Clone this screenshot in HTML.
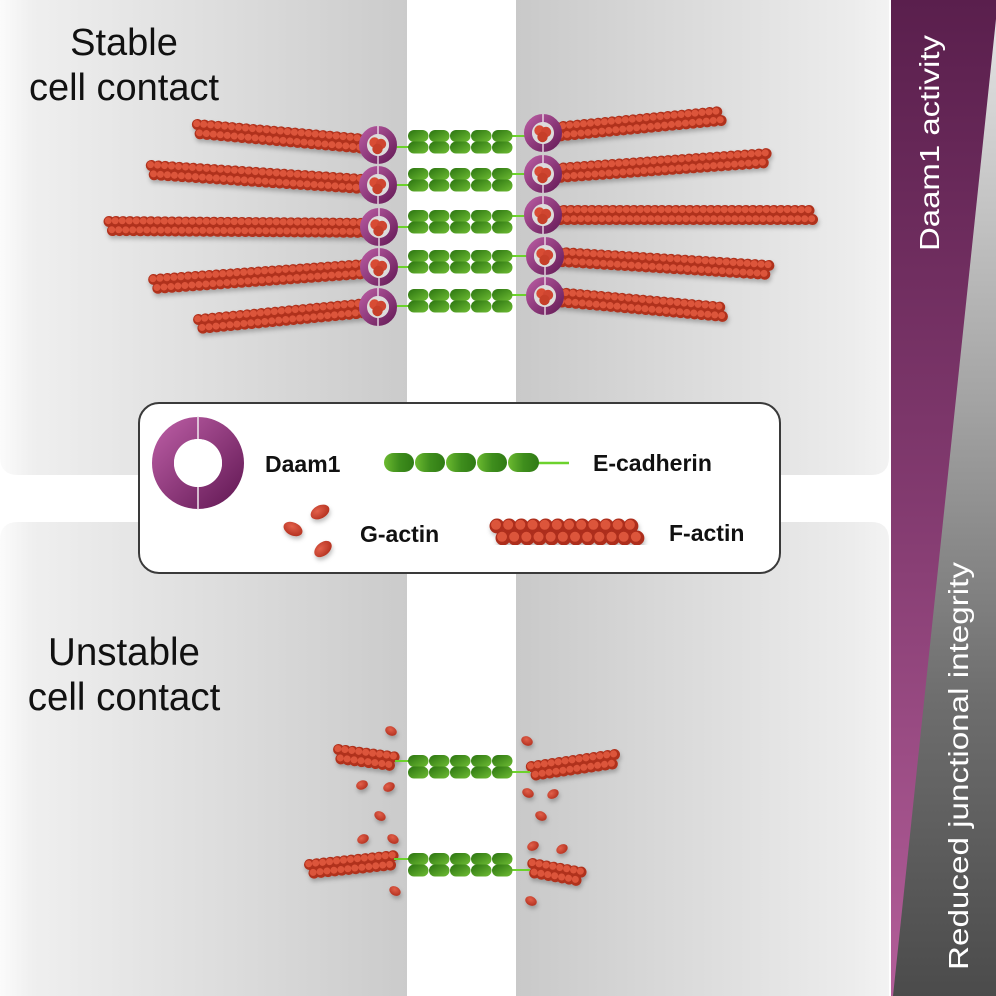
<!DOCTYPE html>
<html><head><meta charset="utf-8"><style>
html,body{margin:0;padding:0;background:#fff;}
svg{display:block;}
.fa{fill:none;stroke:#b0301e;stroke-width:11;stroke-linecap:round;stroke-dasharray:0.01 6.99;}
.fb{fill:none;stroke:#dc553a;stroke-width:7;stroke-linecap:round;stroke-dasharray:0.01 6.99;}
.la{fill:none;stroke:#ad2d1c;stroke-width:15;stroke-linecap:round;stroke-dasharray:0.01 12.16;}
.lb{fill:none;stroke:#dc553a;stroke-width:10;stroke-linecap:round;stroke-dasharray:0.01 12.16;}
.gl{stroke:#6cd22c;stroke-width:2;}
.t{font-family:"Liberation Sans",Arial,sans-serif;}
</style></head><body>
<svg width="996" height="996" viewBox="0 0 996 996" xmlns="http://www.w3.org/2000/svg">
<defs>
 <linearGradient id="gL" gradientUnits="userSpaceOnUse" x1="0" y1="0" x2="407" y2="0">
  <stop offset="0" stop-color="#fbfbfb"/><stop offset="0.08" stop-color="#efefef"/><stop offset="1" stop-color="#cbcbcb"/>
 </linearGradient>
 <linearGradient id="gR" gradientUnits="userSpaceOnUse" x1="516" y1="0" x2="889" y2="0">
  <stop offset="0" stop-color="#c9c9c9"/><stop offset="0.9" stop-color="#ececec"/><stop offset="1" stop-color="#f3f3f3"/>
 </linearGradient>
 <linearGradient id="gP" gradientUnits="userSpaceOnUse" x1="0" y1="0" x2="0" y2="996">
  <stop offset="0" stop-color="#5a1f4d"/><stop offset="0.5" stop-color="#823a6f"/><stop offset="1" stop-color="#b35e99"/>
 </linearGradient>
 <linearGradient id="gG" gradientUnits="userSpaceOnUse" x1="0" y1="0" x2="0" y2="996">
  <stop offset="0" stop-color="#e6e6e6"/><stop offset="0.4" stop-color="#a4a4a4"/><stop offset="0.7" stop-color="#6e6e6e"/><stop offset="1" stop-color="#4b4b4b"/>
 </linearGradient>
 <linearGradient id="rg" x1="0" y1="0" x2="1" y2="1">
  <stop offset="0" stop-color="#b3579d"/><stop offset="1" stop-color="#6b1f5c"/>
 </linearGradient>
 <linearGradient id="gg" x1="0" y1="0" x2="1" y2="1">
  <stop offset="0" stop-color="#2a7310"/><stop offset="1" stop-color="#6fbd34"/>
 </linearGradient>
 <linearGradient id="gg2" x1="0" y1="0" x2="1" y2="0">
  <stop offset="0" stop-color="#6cba30"/><stop offset="0.5" stop-color="#3f8e1d"/><stop offset="1" stop-color="#2f7a14"/>
 </linearGradient>
 <radialGradient id="rb" cx="0.4" cy="0.35" r="0.7">
  <stop offset="0" stop-color="#e2604a"/><stop offset="1" stop-color="#b3301f"/>
 </radialGradient>
 <filter id="sh" x="-10%" y="-50%" width="120%" height="200%">
  <feDropShadow dx="1" dy="3" stdDeviation="2" flood-color="#000" flood-opacity="0.25"/>
 </filter>
 <g id="ring">
  <circle r="15" fill="none" stroke="url(#rg)" stroke-width="8"/>
  <line x1="0" y1="-19" x2="0" y2="19" stroke="#f1e9ef" stroke-width="1.3"/>
  <circle r="11" fill="#dcdcdc"/>
  <circle cx="-3.5" cy="-2.5" r="5.2" fill="#d84c34"/>
  <circle cx="3" cy="-1" r="5.2" fill="#cf4530"/>
  <circle cx="-0.5" cy="4" r="5.2" fill="#c63f29"/>
 </g>
 <g id="cad" fill="url(#gg)">
  <rect x="0" y="0" width="20.5" height="12" rx="6"/><rect x="0" y="11.5" width="20.5" height="12" rx="6"/>
  <rect x="21" y="0" width="20.5" height="12" rx="6"/><rect x="21" y="11.5" width="20.5" height="12" rx="6"/>
  <rect x="42" y="0" width="20.5" height="12" rx="6"/><rect x="42" y="11.5" width="20.5" height="12" rx="6"/>
  <rect x="63" y="0" width="20.5" height="12" rx="6"/><rect x="63" y="11.5" width="20.5" height="12" rx="6"/>
  <rect x="84" y="0" width="20.5" height="12" rx="6"/><rect x="84" y="11.5" width="20.5" height="12" rx="6"/>
 </g>
 <ellipse id="gb" rx="6" ry="4.5" fill="url(#rb)"/>
</defs>

<!-- background panels -->
<rect width="996" height="996" fill="#fff"/>
<path d="M0,0 H407 V475 H18 Q0,475 0,457 Z" fill="url(#gL)"/>
<path d="M516,0 H889 V457 Q889,475 871,475 H516 Z" fill="url(#gR)"/>
<path d="M0,540 Q0,522 18,522 H407 V996 H0 Z" fill="url(#gL)"/>
<path d="M516,522 H871 Q889,522 889,540 V996 H516 Z" fill="url(#gR)"/>

<!-- sidebar -->
<rect x="891" y="0" width="105" height="996" fill="url(#gP)"/>
<polygon points="996,19 996,996 893,996" fill="url(#gG)"/>
<text class="t" transform="translate(939,251) rotate(-90)" font-size="28" fill="#fff" textLength="216" lengthAdjust="spacingAndGlyphs">Daam1 activity</text>
<text class="t" transform="translate(968,970) rotate(-90)" font-size="28" fill="#fff" textLength="408" lengthAdjust="spacingAndGlyphs">Reduced junctional integrity</text>

<!-- titles -->
<text class="t" x="124" y="55" font-size="38" text-anchor="middle" fill="#111">Stable</text>
<text class="t" x="124" y="100" font-size="38" text-anchor="middle" fill="#111">cell contact</text>
<text class="t" x="124" y="665" font-size="38.5" text-anchor="middle" fill="#111">Unstable</text>
<text class="t" x="124" y="710" font-size="38.5" text-anchor="middle" fill="#111">cell contact</text>

<!-- top filaments left -->
<g filter="url(#sh)">
<g transform="translate(197,129) rotate(5.05)"><line class="fa" x1="0" y1="-4.5" x2="181.7" y2="-4.5"/><line class="fb" x1="-0.8" y1="-5.3" x2="180.9" y2="-5.3"/><line class="fa" x1="3.5" y1="4.5" x2="181.7" y2="4.5"/><line class="fb" x1="2.7" y1="3.7" x2="180.9" y2="3.7"/></g>
<g transform="translate(151,170) rotate(3.78)"><line class="fa" x1="0" y1="-4.5" x2="227.5" y2="-4.5"/><line class="fb" x1="-0.8" y1="-5.3" x2="226.7" y2="-5.3"/><line class="fa" x1="3.5" y1="4.5" x2="227.5" y2="4.5"/><line class="fb" x1="2.7" y1="3.7" x2="226.7" y2="3.7"/></g>
<g transform="translate(109,226) rotate(0.42)"><line class="fa" x1="0" y1="-4.5" x2="270" y2="-4.5"/><line class="fb" x1="-0.8" y1="-5.3" x2="269.2" y2="-5.3"/><line class="fa" x1="3.5" y1="4.5" x2="270" y2="4.5"/><line class="fb" x1="2.7" y1="3.7" x2="269.2" y2="3.7"/></g>
<g transform="translate(154,284) rotate(-4.07)"><line class="fa" x1="0" y1="-4.5" x2="225.6" y2="-4.5"/><line class="fb" x1="-0.8" y1="-5.3" x2="224.8" y2="-5.3"/><line class="fa" x1="3.5" y1="4.5" x2="225.6" y2="4.5"/><line class="fb" x1="2.7" y1="3.7" x2="224.8" y2="3.7"/></g>
<g transform="translate(199,324) rotate(-5.43)"><line class="fa" x1="0" y1="-4.5" x2="179.8" y2="-4.5"/><line class="fb" x1="-0.8" y1="-5.3" x2="179" y2="-5.3"/><line class="fa" x1="3.5" y1="4.5" x2="179.8" y2="4.5"/><line class="fb" x1="2.7" y1="3.7" x2="179" y2="3.7"/></g>
<!-- top filaments right -->
<g transform="translate(543,133) rotate(-5.46)"><line class="fa" x1="0" y1="-4.5" x2="178.8" y2="-4.5"/><line class="fb" x1="-0.8" y1="-5.3" x2="178" y2="-5.3"/><line class="fa" x1="3.5" y1="4.5" x2="178.8" y2="4.5"/><line class="fb" x1="2.7" y1="3.7" x2="178" y2="3.7"/></g>
<g transform="translate(543,174) rotate(-4.07)"><line class="fa" x1="0" y1="-4.5" x2="225.6" y2="-4.5"/><line class="fb" x1="-0.8" y1="-5.3" x2="224.8" y2="-5.3"/><line class="fa" x1="3.5" y1="4.5" x2="225.6" y2="4.5"/><line class="fb" x1="2.7" y1="3.7" x2="224.8" y2="3.7"/></g>
<g transform="translate(543,215) rotate(0)"><line class="fa" x1="0" y1="-4.5" x2="270" y2="-4.5"/><line class="fb" x1="-0.8" y1="-5.3" x2="269.2" y2="-5.3"/><line class="fa" x1="3.5" y1="4.5" x2="270" y2="4.5"/><line class="fb" x1="2.7" y1="3.7" x2="269.2" y2="3.7"/></g>
<g transform="translate(545,256) rotate(3.58)"><line class="fa" x1="0" y1="-4.5" x2="224.4" y2="-4.5"/><line class="fb" x1="-0.8" y1="-5.3" x2="223.6" y2="-5.3"/><line class="fa" x1="3.5" y1="4.5" x2="224.4" y2="4.5"/><line class="fb" x1="2.7" y1="3.7" x2="223.6" y2="3.7"/></g>
<g transform="translate(545,296) rotate(5.11)"><line class="fa" x1="0" y1="-4.5" x2="179.7" y2="-4.5"/><line class="fb" x1="-0.8" y1="-5.3" x2="178.9" y2="-5.3"/><line class="fa" x1="3.5" y1="4.5" x2="179.7" y2="4.5"/><line class="fb" x1="2.7" y1="3.7" x2="178.9" y2="3.7"/></g>
</g>

<!-- green connector lines top -->
<line class="gl" x1="395" y1="147" x2="409" y2="147"/><line class="gl" x1="512" y1="136" x2="526" y2="136"/>
<line class="gl" x1="395" y1="185" x2="409" y2="185"/><line class="gl" x1="512" y1="174" x2="526" y2="174"/>
<line class="gl" x1="395" y1="227" x2="409" y2="227"/><line class="gl" x1="512" y1="216" x2="526" y2="216"/>
<line class="gl" x1="395" y1="267" x2="409" y2="267"/><line class="gl" x1="512" y1="256" x2="528" y2="256"/>
<line class="gl" x1="395" y1="306" x2="409" y2="306"/><line class="gl" x1="512" y1="295" x2="528" y2="295"/>

<!-- cadherin chains top -->
<use href="#cad" x="408" y="130"/>
<use href="#cad" x="408" y="168"/>
<use href="#cad" x="408" y="210"/>
<use href="#cad" x="408" y="250"/>
<use href="#cad" x="408" y="289"/>

<!-- rings -->
<use href="#ring" x="378" y="145"/>
<use href="#ring" x="378" y="185"/>
<use href="#ring" x="379" y="227"/>
<use href="#ring" x="379" y="267"/>
<use href="#ring" x="378" y="307"/>
<use href="#ring" x="543" y="133"/>
<use href="#ring" x="543" y="174"/>
<use href="#ring" x="543" y="215"/>
<use href="#ring" x="545" y="256"/>
<use href="#ring" x="545" y="296"/>

<!-- legend -->
<rect x="139" y="403" width="641" height="170" rx="20" fill="#fff" stroke="#3a3a3a" stroke-width="2"/>
<circle cx="198" cy="463" r="35" fill="none" stroke="url(#rg)" stroke-width="22"/>
<line x1="198" y1="416" x2="198" y2="510" stroke="#f1e9ef" stroke-width="1.5"/>
<circle cx="198" cy="463" r="24" fill="#fff"/>
<text class="t" x="265" y="472" font-size="23" font-weight="bold" fill="#111">Daam1</text>
<line x1="535" y1="463" x2="569" y2="463" stroke="#6cd22c" stroke-width="2.5"/>
<g fill="url(#gg2)">
 <rect x="384" y="453" width="30" height="19" rx="9.5"/>
 <rect x="415" y="453" width="30" height="19" rx="9.5"/>
 <rect x="446" y="453" width="30" height="19" rx="9.5"/>
 <rect x="477" y="453" width="30" height="19" rx="9.5"/>
 <rect x="508" y="453" width="31" height="19" rx="9.5"/>
</g>
<text class="t" x="593" y="471" font-size="23" font-weight="bold" fill="#111">E-cadherin</text>
<g filter="url(#sh)">
 <ellipse cx="320" cy="512" rx="10" ry="6.5" transform="rotate(-28 320 512)" fill="url(#rb)"/>
 <ellipse cx="293" cy="529" rx="10" ry="6.5" transform="rotate(25 293 529)" fill="url(#rb)"/>
 <ellipse cx="323" cy="549" rx="10" ry="6.5" transform="rotate(-40 323 549)" fill="url(#rb)"/>
</g>
<text class="t" x="360" y="542" font-size="23" font-weight="bold" fill="#111">G-actin</text>
<g filter="url(#sh)">
 <line class="la" x1="497" y1="526" x2="643" y2="526"/><line class="lb" x1="496" y1="524.8" x2="642" y2="524.8"/>
 <line class="la" x1="503" y1="538" x2="643" y2="538"/><line class="lb" x1="502" y1="536.8" x2="642" y2="536.8"/>
</g>
<text class="t" x="669" y="541" font-size="23" font-weight="bold" fill="#111">F-actin</text>

<!-- bottom section -->
<g filter="url(#sh)">
<g transform="translate(338,754) rotate(7.5)"><line class="fa" x1="0" y1="-4.5" x2="59" y2="-4.5"/><line class="fb" x1="-0.8" y1="-5.3" x2="58.2" y2="-5.3"/><line class="fa" x1="3.5" y1="4.5" x2="59" y2="4.5"/><line class="fb" x1="2.7" y1="3.7" x2="58.2" y2="3.7"/></g>
<g transform="translate(532,771) rotate(-8.2)"><line class="fa" x1="0" y1="-4.5" x2="84" y2="-4.5"/><line class="fb" x1="-0.8" y1="-5.3" x2="83.2" y2="-5.3"/><line class="fa" x1="3.5" y1="4.5" x2="84" y2="4.5"/><line class="fb" x1="2.7" y1="3.7" x2="83.2" y2="3.7"/></g>
<g transform="translate(310,869) rotate(-6)"><line class="fa" x1="0" y1="-4.5" x2="85.5" y2="-4.5"/><line class="fb" x1="-0.8" y1="-5.3" x2="84.7" y2="-5.3"/><line class="fa" x1="3.5" y1="4.5" x2="85.5" y2="4.5"/><line class="fb" x1="2.7" y1="3.7" x2="84.7" y2="3.7"/></g>
<g transform="translate(532,868) rotate(10)"><line class="fa" x1="0" y1="-4.5" x2="52" y2="-4.5"/><line class="fb" x1="-0.8" y1="-5.3" x2="51.2" y2="-5.3"/><line class="fa" x1="3.5" y1="4.5" x2="52" y2="4.5"/><line class="fb" x1="2.7" y1="3.7" x2="51.2" y2="3.7"/></g>

<use href="#gb" transform="translate(391,731) rotate(25)"/>
<use href="#gb" transform="translate(362,785) rotate(-20)"/>
<use href="#gb" transform="translate(389,787) rotate(-25)"/>
<use href="#gb" transform="translate(380,816) rotate(30)"/>
<use href="#gb" transform="translate(363,839) rotate(-25)"/>
<use href="#gb" transform="translate(393,839) rotate(30)"/>
<use href="#gb" transform="translate(395,891) rotate(30)"/>
<use href="#gb" transform="translate(527,741) rotate(25)"/>
<use href="#gb" transform="translate(528,793) rotate(25)"/>
<use href="#gb" transform="translate(553,794) rotate(-30)"/>
<use href="#gb" transform="translate(541,816) rotate(25)"/>
<use href="#gb" transform="translate(533,846) rotate(-25)"/>
<use href="#gb" transform="translate(562,849) rotate(-30)"/>
<use href="#gb" transform="translate(531,901) rotate(25)"/>
</g>

<line class="gl" x1="395" y1="761" x2="409" y2="761"/><line class="gl" x1="512" y1="772" x2="530" y2="772"/>
<line class="gl" x1="394" y1="859" x2="409" y2="859"/><line class="gl" x1="512" y1="870" x2="530" y2="870"/>
<use href="#cad" x="408" y="755"/>
<use href="#cad" x="408" y="853"/>
</svg>
</body></html>
